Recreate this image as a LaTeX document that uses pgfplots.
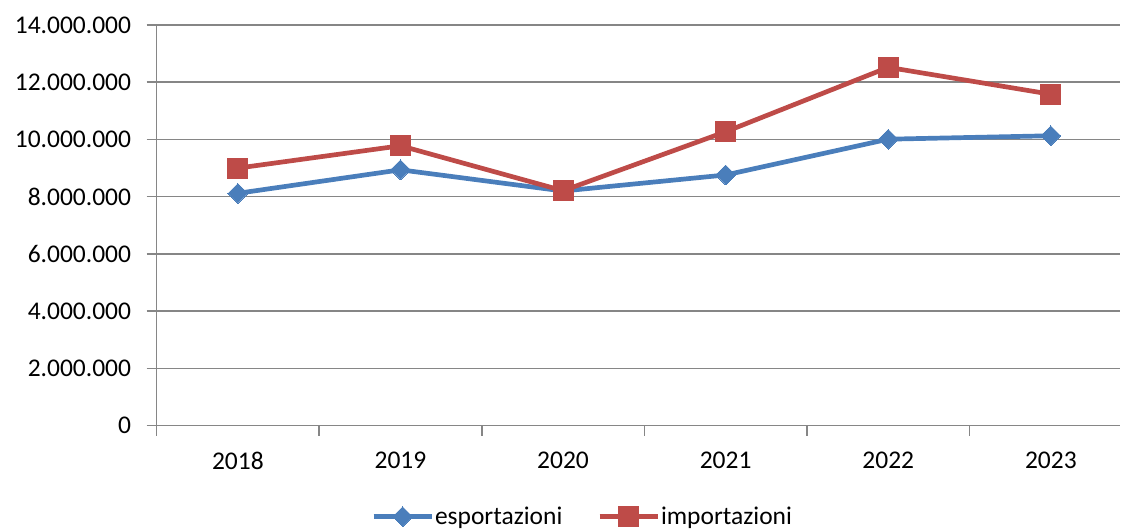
\documentclass[border=0pt]{standalone}
\usepackage{fontspec}
\setmainfont{Carlito}
\usepackage{pgfplots}
\pgfplotsset{compat=1.18}
\definecolor{expblue}{HTML}{4A7EBB}
\definecolor{impred}{HTML}{BE4B48}
\definecolor{gridgray}{HTML}{868686}
\newcommand{\chartfont}{\fontsize{25.5}{30}\selectfont}
\begin{document}
\begin{tikzpicture}
\begin{axis}[
  at={(0,0)}, anchor=south west,
  scale only axis, width=964.3pt, height=401pt,
  xmin=-0.5, xmax=5.427, ymin=0, ymax=14000000,
  axis x line*=bottom, axis y line*=left,
  axis line style={gridgray, line width=1.5pt},
  every axis plot/.append style={line width=4.7pt},
  tick align=outside,
  major tick length=10pt,
  tick style={gridgray, line width=1.5pt},
  ymajorgrids,
  grid style={gridgray, line width=1.5pt},
  ytick={0,2000000,4000000,6000000,8000000,10000000,12000000,14000000},
  scaled y ticks=false,
  /pgf/number format/.cd, fixed, 1000 sep={.}, assume math mode=true,
  /pgfplots/.cd,
  xtick={-0.5,0.5,1.5,2.5,3.5,4.5},
  xticklabels={},
  extra x ticks={0,1,2,3,4,5},
  extra x tick labels={2018,2019,2020,2021,2022,2023},
  extra x tick style={major tick length=0pt, grid=none},
  tick label style={font=\chartfont, text=black},
  xticklabel style={yshift=-23pt},
  yticklabel style={xshift=-12pt},
  legend columns=2,
  legend style={at={(0.4416,-0.227)}, anchor=center, draw=none, fill=none,
    font=\chartfont, nodes={inner sep=1pt},
    /tikz/every even column/.append style={column sep=34pt}},
  legend image code/.code={\draw[mark repeat=2,mark phase=2,#1] plot coordinates {(0pt,0pt)(29pt,0pt)(58pt,0pt)};},
]
\addplot[color=expblue, mark=square*, mark size=7pt, mark options={rotate=45, solid, fill=expblue, draw=expblue, line width=0pt}]
  coordinates {(0,8120000) (1,8940000) (2,8200000) (3,8760000) (4,10010000) (5,10130000)};
\addlegendentry{esportazioni}
\addplot[color=impred, mark=square*, mark size=10pt, mark options={solid, fill=impred, draw=impred, line width=0pt}]
  coordinates {(0,9000000) (1,9780000) (2,8210000) (3,10270000) (4,12520000) (5,11580000)};
\addlegendentry{importazioni}
\end{axis}
\path[use as bounding box] (-156.7pt,-103pt) rectangle (964.3pt,426pt);
\end{tikzpicture}
\end{document}
